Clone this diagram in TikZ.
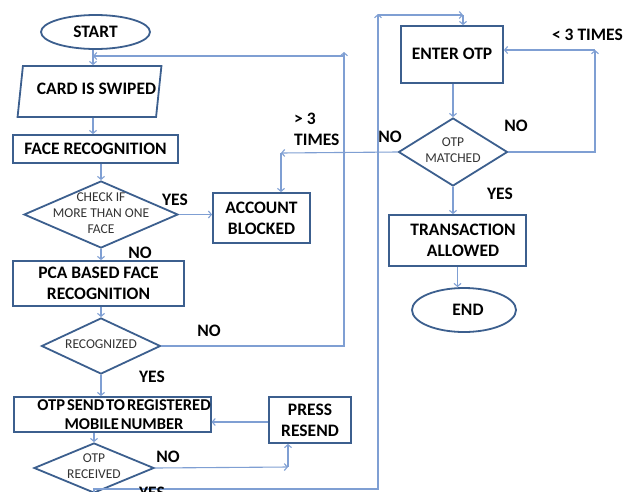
\documentclass[tikz,border=0pt]{standalone}
\usepackage{fontspec}
\setmainfont{Carlito}
\usepackage{tikz}
\usetikzlibrary{shapes.geometric, arrows.meta, positioning, calc}
\definecolor{boxblue}{HTML}{3C5F8E}
\definecolor{flowblue}{HTML}{7F9FD3}
\definecolor{smalltext}{HTML}{333333}
% text of a decision box, kept out of the box size
\newcommand{\dectext}[1]{\makebox[0pt]{\smash{\raisebox{-3pt}{\begin{tabular}{@{}c@{}}#1\end{tabular}}}}}
\newcommand{\tightspace}{\spaceskip=0.12em\relax}

\begin{document}
\begin{tikzpicture}[x=1pt, y=-1pt,
  >={Straight Barb[length=3pt,width=7pt]},
  shapebox/.style={draw=boxblue, line width=1.8pt, fill=white, inner sep=0pt, align=center, font=\fontsize{17.5}{21}\selectfont\bfseries},
  procbox/.style={shapebox, rectangle},
  termbox/.style={shapebox, ellipse},
  iobox/.style={shapebox, trapezium, trapezium left angle=72, trapezium right angle=108, trapezium stretches=true},
  decbox/.style={shapebox, diamond, font=\fontsize{13.5}{16}\selectfont, text=smalltext},
  flow/.style={flowblue, line width=1.1pt, ->},
  tag/.style={font=\fontsize{17.5}{21}\selectfont\bfseries, inner sep=0pt}]
  \useasboundingbox (0,0) rectangle (624,491);

  % Left column
  \node[termbox, minimum width=109, minimum height=34] (start) at (95.5,32) {START};
  \node[iobox, minimum width=143, minimum height=51] (card) at (89.5,91.5) {\raisebox{5pt}{\hspace*{14pt}CARD IS SWIPED}};
  \node[procbox, minimum width=165, minimum height=28] (face) at (95.5,149) {FACE RECOGNITION};
  \node[decbox, minimum width=154, minimum height=67] (check) at (101,214.5) {\dectext{CHECK IF\\MORE THAN ONE\\FACE}};
  \node[procbox, minimum width=97, minimum height=50] (acct) at (261.5,218) {ACCOUNT\\BLOCKED};
  \node[procbox, minimum width=171, minimum height=45] (pca) at (98.5,283.5) {PCA BASED FACE\\RECOGNITION};
  \node[decbox, minimum width=119, minimum height=56] (recog) at (101,346) {\dectext{RECOGNIZED}};
  \node[procbox, minimum width=189, minimum height=35, font={\fontsize{16.5}{19}\selectfont\bfseries\tightspace}] (otpsend) at (112.5,414.5) {\hspace*{23pt}OTP SEND TO REGISTERED\\\hspace*{23pt}MOBILE NUMBER};
  \node[procbox, minimum width=82, minimum height=46] (resend) at (310,420) {PRESS\\RESEND};
  \node[decbox, minimum width=120, minimum height=50] (otprec) at (94,468) {\dectext{OTP\\RECEIVED}};

  % Right column
  \node[procbox, minimum width=102, minimum height=57] (enter) at (452,54.5) {\raisebox{2pt}{ENTER OTP}};
  \node[decbox, minimum width=109, minimum height=68] (match) at (453,152) {\dectext{OTP\\MATCHED}};
  \node[procbox, minimum width=137, minimum height=51] (trans) at (457.5,240.5) {\hspace*{11pt}TRANSACTION\\\hspace*{11pt}ALLOWED};
  \node[termbox, minimum width=104, minimum height=44] (endn) at (464,310) {\hspace*{8pt}END};

  % Turning points
  \coordinate (loopup) at (344,52);
  \coordinate (loopin) at (344,56);
  \coordinate (rsnd) at (288,467);
  \coordinate (yesbot) at (378,489);
  \coordinate (yestop) at (378,14);
  \coordinate (yesturn) at (463,15);
  \coordinate (lt3) at (595,50);
  \coordinate (gt3) at (281,153);

  % Connectors
  \draw[flow] (start.south -| 93,0) -- (card.north -| 93,0);
  \draw[flow] (card.south -| 93,0) -- (face.north -| 93,0);
  \draw[flow] (check.north |- face.south) -- (check.north);
  \draw[flow] (check.east) -- (check.east -| acct.west);
  \draw[flow] (check.south) -- (check.south |- pca.north);
  \draw[flow] (recog.north |- pca.south) -- (recog.north);
  \draw[flow] (recog.south) -- (recog.south |- otpsend.north);
  \draw[flow] (recog.east) -| (loopup);
  \draw[flow] (loopin) -- (loopin -| 93,0);
  \draw[flow] (otprec.north |- otpsend.south) -- (otprec.north);
  \draw[flow] (otprec.east) -- (rsnd);
  \draw[flow] (rsnd) -- (rsnd |- resend.south);
  \draw[flow] (resend.west |- 0,422) -- (otpsend.east |- 0,422);
  \draw[flow] (otprec.south) |- (yesbot) -- (yestop);
  \draw[flow] (yestop |- yesturn) -- (yesturn);
  \draw[flow] (yesturn) -- (yesturn |- enter.north);
  \draw[flow] (match.north |- enter.south) -- (match.north);
  \draw[flow] (match.east) -| (lt3);
  \draw[flow] (lt3) -- (lt3 -| enter.east);
  \draw[flow] (match.west) -- (gt3);
  \draw[flow] (gt3) -- (gt3 |- acct.north);
  \draw[flow] (match.south) -- (match.south |- trans.north);
  \draw[flow] (trans.south) -- (trans.south |- endn.north);

  % Branch labels
  \node[tag] (yescheck) at (175,200) {YES};
  \node[tag] (nocheck) at (140,253) {NO};
  \node[tag] (norecog) at (209,331) {NO};
  \node[tag] (yesrecog) at (152,377) {YES};
  \node[tag] (norec) at (168,457) {NO};
  \node[tag] (yesrec) at (152,493) {YES};
  \node[tag, anchor=north west, align=left] (gtlabel) at (294,113) {> 3\\TIMES};
  \node[tag] (nomatchl) at (390,137) {NO};
  \node[tag] (nomatchr) at (516,126) {NO};
  \node[tag, anchor=east] (ltlabel) at (623,35) {< 3 TIMES};
  \node[tag] (yesmatch) at (500,194) {YES};
\end{tikzpicture}
\end{document}
